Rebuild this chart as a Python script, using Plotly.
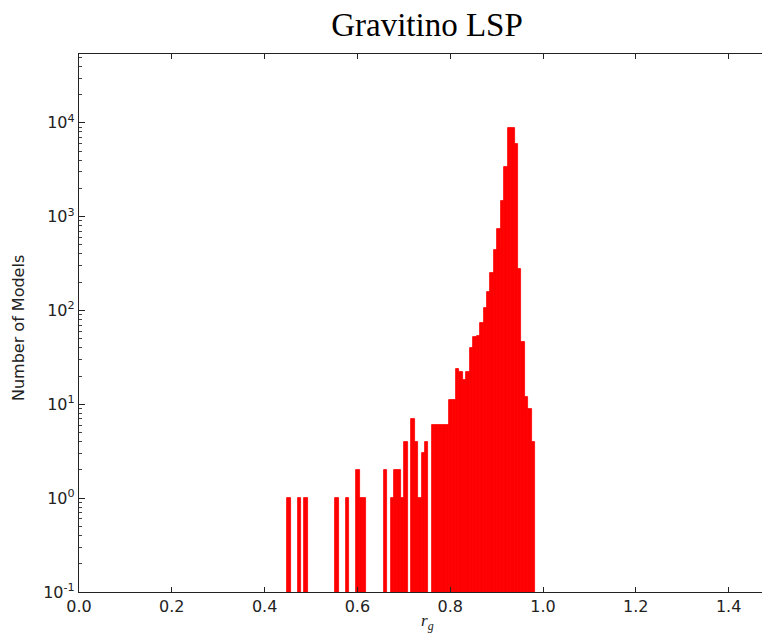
import numpy as np
import plotly.graph_objects as go

# Histogram data
BIN_START = 0.4487      # left edge of first bin (r_g)
BIN_WIDTH = 0.007425    # bin width (r_g)
COUNTS = [
    1, 0, 0, 1, 0, 1, 0, 0, 0, 0,
    0, 0, 0, 0, 1, 0, 0, 1, 0, 0,
    2, 1, 1, 0, 0, 0, 0, 0, 2, 0,
    1, 2, 2, 1, 4, 0, 7, 4, 1, 3,
    4, 0, 6, 6, 6, 6, 6, 11, 11, 24,
    22, 18, 22, 40, 52, 54, 73, 105, 158, 252,
    442, 738, 1480, 3420, 8900, 8800, 6000, 274, 46, 12,
    9, 4,
]
X_TICKS = [0.0, 0.2, 0.4, 0.6, 0.8, 1.0, 1.2, 1.4]
X_TICK_TEXT = ["0.0", "0.2", "0.4", "0.6", "0.8", "1.0", "1.2", "1.4"]
Y_TICKS = [0.1, 1, 10, 100, 1000, 10000]
Y_TICK_TEXT = ["10<sup>-1</sup>", "10<sup>0</sup>", "10<sup>1</sup>",
               "10<sup>2</sup>", "10<sup>3</sup>", "10<sup>4</sup>"]
TITLE = "Gravitino LSP"
X_LABEL = "<i>r</i><sub><i>g</i></sub>"
Y_LABEL = "Number of Models"

counts = np.array(COUNTS, dtype=float)
centers = BIN_START + BIN_WIDTH * (np.arange(len(counts)) + 0.5)
mask = counts > 0

# the page body has an 8px margin, so the figure is offset by (8, 8)
OFF = 8
W, H = 770 - OFF, 643 - 2 * OFF
L, T = 79 - OFF, 54 - OFF
R = 0
PW = W - L - R
PH = 592 - 54
B = H - T - PH
px_per_unit = 464.0
x_max = PW / px_per_unit

fig = go.Figure()
fig.add_trace(go.Bar(
    x=centers[mask], y=counts[mask], width=BIN_WIDTH,
    marker=dict(color="#ff0000", line=dict(color="#ff0000", width=0.8)),
    showlegend=False,
))
# invisible trace to carry right-side tick marks
fig.add_trace(go.Scatter(x=[0.5], y=[1], yaxis="y2", mode="markers",
                         marker=dict(opacity=0), showlegend=False,
                         hoverinfo="skip"))

tickfont = dict(family="DejaVu Sans", size=16, color="#222222")

def px_x(px):   # page pixel -> paper x
    return (px - OFF - L) / PW

def px_y(py):   # page pixel -> paper y
    return (T + PH - (py - OFF)) / PH

fig.update_layout(
    width=W, height=H,
    margin=dict(l=L, r=R, t=T, b=B, autoexpand=False),
    paper_bgcolor="white", plot_bgcolor="white",
    bargap=0,
    title=dict(text=TITLE, x=(427 - OFF) / W, xref="container", xanchor="center",
               y=1 - (24 - OFF) / H, yref="container", yanchor="middle",
               font=dict(family="Liberation Serif", size=33, color="black")),
    xaxis=dict(
        range=[0, x_max], tickvals=X_TICKS, ticktext=X_TICK_TEXT,
        ticks="inside", ticklen=5, tickwidth=1, tickcolor="#222222",
        showline=True, linecolor="#222222", linewidth=1.3, mirror="ticks",
        showgrid=False, zeroline=False, tickfont=tickfont, automargin=False,
    ),
    yaxis=dict(
        type="log", range=[-1, 4.733], tickvals=Y_TICKS, ticktext=Y_TICK_TEXT,
        ticks="inside", ticklen=6, tickwidth=1, tickcolor="#222222",
        minor=dict(ticks="inside", ticklen=3, tickcolor="#444444", dtick="D1"),
        showline=True, linecolor="#222222", linewidth=1.3, mirror=False,
        showgrid=False, zeroline=False, tickfont=tickfont, automargin=False,
    ),
    yaxis2=dict(
        type="log", range=[-1, 4.733], overlaying="y", side="right",
        anchor="x", tickvals=Y_TICKS, showticklabels=False,
        ticks="inside", ticklen=3, tickwidth=1, tickcolor="#444444",
        showline=False, showgrid=False, zeroline=False, automargin=False,
    ),
    annotations=[
        dict(text=X_LABEL, xref="paper", yref="paper",
             x=px_x(427), y=px_y(622),
             xanchor="center", yanchor="middle", showarrow=False,
             font=dict(family="Liberation Serif", size=17, color="#222222")),
        dict(text=Y_LABEL, xref="paper", yref="paper",
             x=px_x(18), y=px_y(328), textangle=-90,
             xanchor="center", yanchor="middle", showarrow=False,
             font=dict(family="DejaVu Sans", size=16, color="#222222")),
    ],
)

fig.write_html("out.html")
